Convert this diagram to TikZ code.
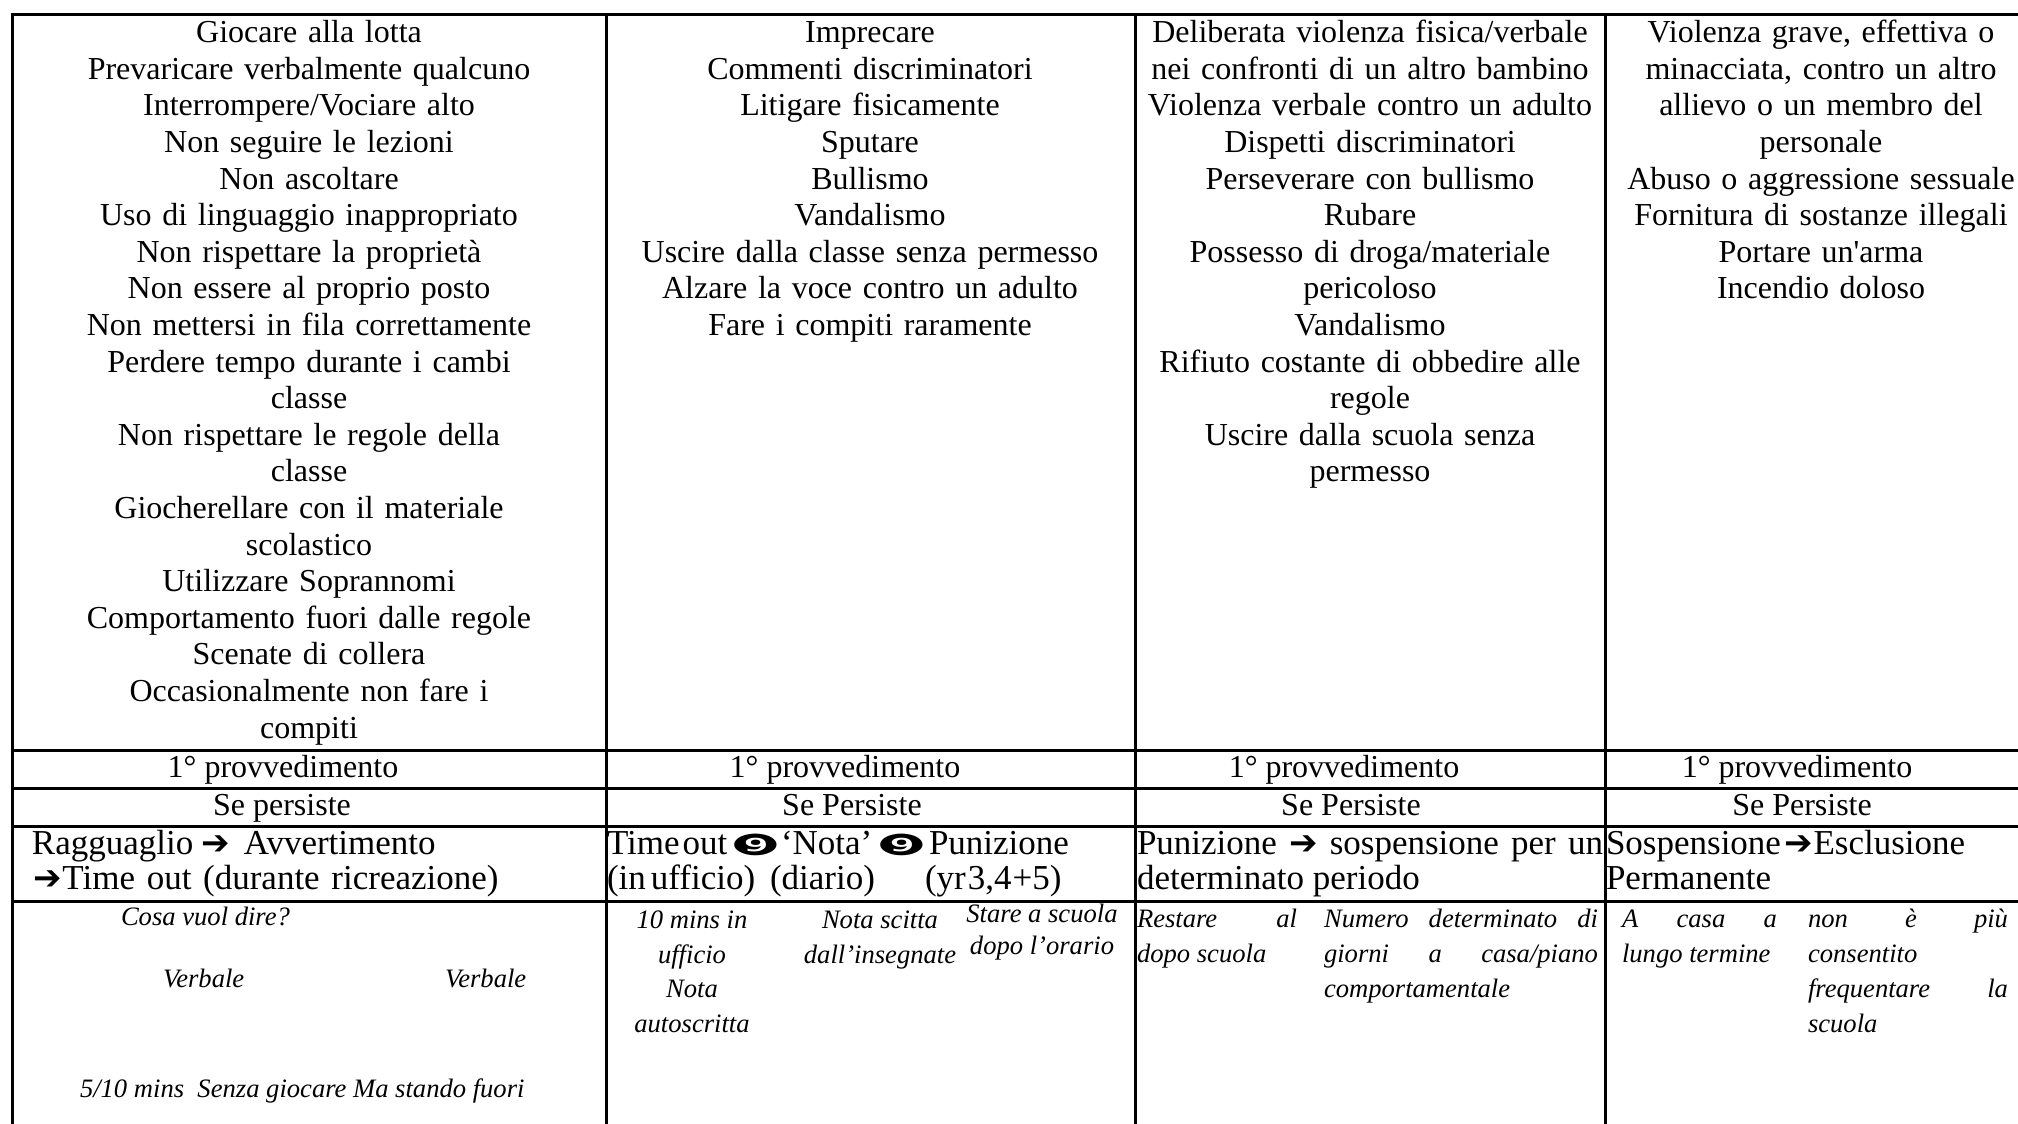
\documentclass[tikz,border=0pt]{standalone}
\usepackage{fontspec}
\setmainfont{Liberation Serif}[Ligatures=TeXOff]
\newfontfamily\dvsans{DejaVu Sans}
\usepackage{graphicx}
\newcommand\myarrow{{\dvsans\fontsize{17}{17}\selectfont ➔}}
\newcommand\ninecirc{{\dvsans\fontsize{14.5}{14.5}\selectfont\scalebox{1.95}[1]{❾}}}
\tikzset{
  tline/.style={line width=1.5pt, line cap=rect},
  celltxt/.style={inner sep=0pt, outer sep=0pt, anchor=north, align=center, text width=#1, font=\fontsize{16}{18.3}\selectfont},
  rowtxt/.style={inner sep=0pt, outer sep=0pt, anchor=base, font=\fontsize{16}{18.3}\selectfont},
  bigtxt/.style={inner sep=0pt, outer sep=0pt, anchor=base west, font=\fontsize{17.5}{18}\selectfont},
  notetxt/.style={inner sep=0pt, outer sep=0pt, anchor=base west, font=\fontsize{13.3}{17.5}\selectfont\itshape},
  notectr/.style={notetxt, anchor=base},
  glyphtxt/.style={inner sep=0pt, outer sep=0pt, anchor=center},
}
\begin{document}
\begin{tikzpicture}[x=0.5pt,y=-0.5pt]
\useasboundingbox (0,0) rectangle (2018,1124);
\fill[white] (0,0) rectangle (2018,1124);
\begin{scope}
\clip (0,0) rectangle (2018,1124);
% horizontal rules
\draw[tline] (12,14) -- (2040,14);
\draw[tline] (12,750) -- (2040,750);
\draw[tline] (12,788) -- (2040,788);
\draw[tline] (12,826) -- (2040,826);
\draw[tline] (12,901) -- (2040,901);
% vertical rules
\draw[tline] (12,14) -- (12,1140);
\draw[tline] (606,14) -- (606,1140);
\draw[tline] (1135,14) -- (1135,1140);
\draw[tline] (1605,14) -- (1605,1140);
\end{scope}

% body cells
\node[celltxt=290pt] (c1) at (309,17.1) {\strut Giocare alla lotta\\Prevaricare verbalmente qualcuno\\Interrompere/Vociare alto\\Non seguire le lezioni\\Non ascoltare\\Uso di linguaggio inappropriato\\Non rispettare la proprietà\\Non essere al proprio posto\\Non mettersi in fila correttamente\\Perdere tempo durante i cambi\\classe\\Non rispettare le regole della\\classe\\Giocherellare con il materiale\\scolastico\\Utilizzare Soprannomi\\Comportamento fuori dalle regole\\Scenate di collera\\Occasionalmente non fare i\\compiti};
\node[celltxt=255pt] (c2) at (870,17.1) {\strut Imprecare\\Commenti discriminatori\\Litigare fisicamente\\Sputare\\Bullismo\\Vandalismo\\Uscire dalla classe senza permesso\\Alzare la voce contro un adulto\\Fare i compiti raramente};
\node[celltxt=232pt] (c3) at (1370,17.1) {\strut Deliberata violenza fisica/verbale\\nei confronti di un altro bambino\\Violenza verbale contro un adulto\\Dispetti discriminatori\\Perseverare con bullismo\\Rubare\\Possesso di droga/materiale\\pericoloso\\Vandalismo\\Rifiuto costante di obbedire alle\\regole\\Uscire dalla scuola senza\\permesso};
\node[celltxt=215pt] (c4) at (1821,17.1) {\strut Violenza grave, effettiva o\\minacciata, contro un altro\\allievo o un membro del\\personale\\Abuso o aggressione sessuale\\Fornitura di sostanze illegali\\Portare un'arma\\Incendio doloso};

% row 2 and 3
\node[rowtxt] (p1) at (283,777) {1° provvedimento};
\node[rowtxt] (p2) at (845,777) {1° provvedimento};
\node[rowtxt] (p3) at (1344,777) {1° provvedimento};
\node[rowtxt] (p4) at (1797,777) {1° provvedimento};
\node[rowtxt] (s1) at (282,815) {Se persiste};
\node[rowtxt] (s2) at (852,815) {Se Persiste};
\node[rowtxt] (s3) at (1351,815) {Se Persiste};
\node[rowtxt] (s4) at (1802,815) {Se Persiste};

% row 4
\node[bigtxt] (a1) at (32,854) {Ragguaglio\hspace{4pt}\myarrow\hspace{7pt}Avvertimento};
\node[bigtxt] (a2) at (33,889) {\myarrow\hspace{0.5pt}\makebox[218pt][s]{Time out (durante ricreazione)}};

\node[bigtxt] (b1) at (607,854) {Time\hspace{1.5pt}out};
\node[glyphtxt] (g1) at (756,845) {\ninecirc};
\node[bigtxt] (b2) at (781,854) {‘Nota’};
\node[glyphtxt] (g2) at (902,845) {\ninecirc};
\node[bigtxt] (b3) at (929,854) {Punizione};
\node[bigtxt] (b4) at (607,889) {(in\hspace{2.5pt}ufficio)};
\node[bigtxt] (b5) at (770,889) {(diario)};
\node[bigtxt] (b6) at (925,889) {(yr\hspace{1pt}3,4\hspace{0.5pt}+5)};

\node[bigtxt] (d1) at (1137,854) {\makebox[233pt][s]{Punizione \myarrow{} sospensione per un}};
\node[bigtxt] (d2) at (1137,889) {determinato periodo};

\node[bigtxt] (e1) at (1606,854) {Sospensione\hspace{1.5pt}\myarrow\hspace{0.5pt}Esclusione};
\node[bigtxt] (e2) at (1606,889) {Permanente};

% row 5
\node[notetxt] (n1) at (121,925) {Cosa vuol dire?};
\node[notetxt] (n2) at (163,987) {Verbale};
\node[notetxt] (n3) at (445,987) {Verbale};
\node[notetxt] (n4) at (80,1097) {5/10 mins\ \ Senza giocare Ma stando fuori};

\node[notectr] (m1) at (692,928) {10 mins in};
\node[notectr] (m2) at (692,963) {ufficio};
\node[notectr] (m3) at (692,997) {Nota};
\node[notectr] (m4) at (692,1032) {autoscritta};
\node[notectr] (m5) at (880,928) {Nota scitta};
\node[notectr] (m6) at (880,963) {dall’insegnate};
\node[notectr] (m7) at (1042,922) {Stare a scuola};
\node[notectr] (m8) at (1042,954) {dopo l’orario};

\node[notetxt] (r1) at (1137,927) {\makebox[80pt][s]{Restare al}};
\node[notetxt] (r2) at (1137,962) {dopo scuola};
\node[notetxt] (r3) at (1324,927) {\makebox[137pt][s]{Numero determinato di}};
\node[notetxt] (r4) at (1324,962) {\makebox[137pt][s]{giorni a casa/piano}};
\node[notetxt] (r5) at (1324,997) {comportamentale};

\node[notetxt] (t1) at (1622,927) {\makebox[77.5pt][s]{A casa a}};
\node[notetxt] (t2) at (1622,962) {lungo termine};
\node[notetxt] (t3) at (1808,927) {\makebox[100pt][s]{non è più}};
\node[notetxt] (t4) at (1808,962) {consentito};
\node[notetxt] (t5) at (1808,997) {\makebox[100pt][s]{frequentare la}};
\node[notetxt] (t6) at (1808,1032) {scuola};
\end{tikzpicture}
\end{document}
